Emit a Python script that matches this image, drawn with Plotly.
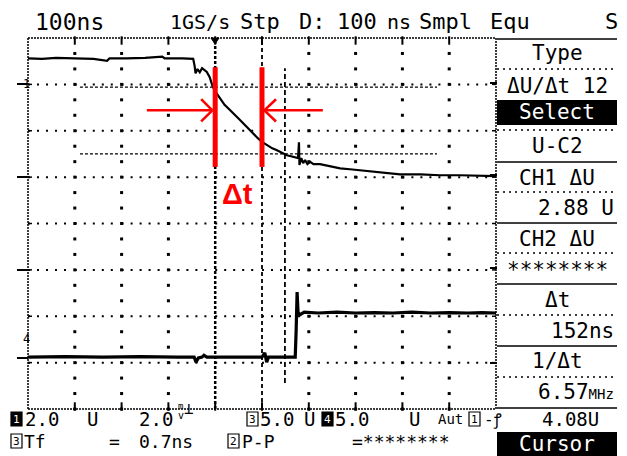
import plotly.graph_objects as go

# ---------------- data (time in ns, vertical position in screen divisions) ----------------
ch1_t = [-500, -470, -440, -400, -360, -331, -326, -290, -250, -213, -208, -170, -147,
         -144, -142, -138, -133, -128, -123, -118, -112, -105, -98, -90, -80, -68, -58,
         -47, -36, -26, -17, -9, 0, 11, 22, 32, 43, 53, 62, 71, 77, 79, 80, 84, 88, 92,
         97, 103, 110, 124, 145, 167, 188, 209, 231, 252, 274, 295, 338, 380, 423, 466, 500]
ch1_v = [7.56, 7.55, 7.57, 7.56, 7.55, 7.51, 7.56, 7.56, 7.57, 7.60, 7.56, 7.56, 7.55,
         7.40, 7.24, 7.33, 7.26, 7.35, 7.30, 7.27, 7.16, 6.94, 6.82, 6.70, 6.56, 6.44, 6.33,
         6.23, 6.12, 6.01, 5.93, 5.84, 5.76, 5.69, 5.62, 5.58, 5.52, 5.47, 5.45, 5.43, 5.41,
         5.75, 5.26, 5.41, 5.30, 5.37, 5.28, 5.33, 5.28, 5.28, 5.24, 5.19, 5.17, 5.15, 5.13,
         5.11, 5.09, 5.06, 5.06, 5.04, 5.04, 5.02, 5.02]

ch4_t = [-500, -420, -340, -260, -180, -145, -141, -136, -128, -124, -118, -60, 0, 6,
         10, 14, 40, 71, 73, 75, 77, 81, 90, 120, 160, 200, 240, 280, 320, 360, 400,
         440, 470, 500]
ch4_v = [1.12, 1.13, 1.12, 1.13, 1.12, 1.12, 1.01, 1.10, 1.12, 1.16, 1.12, 1.12, 1.12,
         1.21, 1.01, 1.12, 1.12, 1.12, 1.70, 2.52, 2.09, 2.03, 2.09, 2.07, 2.09, 2.07,
         2.08, 2.07, 2.09, 2.07, 2.08, 2.07, 2.08, 2.07]

x_range = [-500, 500]
y_range = [0, 8]
x_grid = [-400, -300, -200, -100, 0, 100, 200, 300, 400]
y_grid = [1, 2, 3, 4, 5, 6, 7]
x_step = 100
y_step = 1

cursor_t = [-100, 0]           # red time cursors
cursor_span = [5.22, 7.37]
arrow_y = 6.44
hcursor_v = [6.94, 5.50]       # horizontal dashed cursors
vcursor_t = 49                 # vertical dashed cursor

top_labels = [("100ns", 33, 23), ("1GS/s", 168, 20), ("Stp", 238, 22), ("D:", 297, 22),
              ("100", 335, 22), ("ns", 385, 20), ("Smpl", 417, 22), ("Equ", 488, 22),
              ("S", 603, 22)]

panel_center = [("Type", 53), ("ΔU/Δt 12", 86), ("U-C2", 146), ("CH1 ΔU", 178),
                ("CH2 ΔU", 239), ("********", 270), ("Δt", 300), ("1/Δt", 361)]
panel_right = [("2.88 U", 208), ("152ns", 331),
               ("6.57<span style='font-size:14px'>MHz</span>", 392)]

row1 = [("2.0", 23), ("U", 85), ("2.0", 137), ("5.0", 258), ("U", 302), ("5.0", 333),
        ("U", 407), ("4.08U", 540)]
row2 = [("Tf", 22), ("=", 107), ("0.7ns", 137), ("P-P", 240), ("=********", 350)]

# ---------------- geometry (page pixels; the page body adds an 8px margin) ----------------
PAGE_OFF = 8
W, H = 627 - PAGE_OFF, 456 - PAGE_OFF
L, R, T, B = 28, 496, 38, 409     # plot area in page pixels


def X(px):
    return (px - L) / (R - L)


def Y(py):
    return (B - py) / (B - T)


px_per_x = (R - L) / (x_range[1] - x_range[0])
py_per_y = (B - T) / (y_range[1] - y_range[0])

fig = go.Figure()

# vertical graticule: 3 dots per division, drawn as small square markers
gx, gy = [], []
for xv in x_grid:
    if xv in cursor_t:
        continue
    for k in range(y_range[0], y_range[1]):
        for j in range(3):
            gx.append(xv)
            gy.append(k + j * y_step / 3)
fig.add_trace(go.Scatter(x=gx, y=gy, mode="markers", hoverinfo="skip", cliponaxis=False,
                         marker=dict(symbol="square", size=3, color="black",
                                     line=dict(width=0))))
# top / bottom border ticks
tx, ty = [], []
for xv in x_grid:
    tx += [xv, xv]
    ty += [y_range[1] - 2.5 / py_per_y, y_range[0] + 2.5 / py_per_y]
fig.add_trace(go.Scatter(x=tx, y=ty, mode="markers", hoverinfo="skip", cliponaxis=False,
                         marker=dict(symbol="line-ns", size=6, color="black",
                                     line=dict(width=2, color="black"))))

fig.add_trace(go.Scatter(x=ch1_t, y=ch1_v, mode="lines",
                         line=dict(color="black", width=2.2), hoverinfo="skip"))
fig.add_trace(go.Scatter(x=ch4_t, y=ch4_v, mode="lines",
                         line=dict(color="black", width=3.2), hoverinfo="skip"))

shapes = []
ann = []
MONO = "DejaVu Sans Mono"

# horizontal graticule
x_cut = 44 / px_per_x
for yv in y_grid:
    for xs in range(x_range[0], x_range[1], x_step):
        shapes.append(dict(type="line", xref="x", yref="y", x0=xs, x1=xs + x_cut,
                           y0=yv, y1=yv, layer="below",
                           line=dict(color="black", width=2, dash="2px,7px")))

# left/right border ticks
for yv in y_grid:
    shapes.append(dict(type="line", xref="paper", yref="y", x0=0, x1=X(L + 4), y0=yv, y1=yv,
                       line=dict(color="black", width=1.5)))
    shapes.append(dict(type="line", xref="paper", yref="y", x0=1, x1=X(R - 4), y0=yv, y1=yv,
                       line=dict(color="black", width=1.5)))

# plot border (dense dotted)
for (x0, y0, x1, y1) in [(0, 0, 1, 0), (0, 1, 1, 1), (0, 0, 0, 1), (1, 0, 1, 1)]:
    shapes.append(dict(type="line", xref="paper", yref="paper", x0=x0, y0=y0, x1=x1, y1=y1,
                       line=dict(color="black", width=1.5, dash="2px,1px")))

# special vertical lines (trigger / cursors)
shapes.append(dict(type="line", xref="x", yref="paper", x0=-100, x1=-100, y0=0, y1=1,
                   line=dict(color="black", width=2.5, dash="3px,2px")))
shapes.append(dict(type="line", xref="x", yref="paper", x0=0, x1=0, y0=0, y1=1,
                   line=dict(color="black", width=1.8, dash="4px,3px")))
shapes.append(dict(type="line", xref="x", yref="y", x0=vcursor_t, x1=vcursor_t,
                   y0=0.56, y1=7.35, line=dict(color="black", width=1.8, dash="5px,3px")))
for v in hcursor_v:
    shapes.append(dict(type="line", xref="x", yref="y", x0=-389, x1=374, y0=v, y1=v,
                       line=dict(color="black", width=1.2, dash="3px,2px")))

# trigger marker
shapes.append(dict(type="path", xref="paper", yref="paper",
                   path=f"M {X(211)},{Y(38)} L {X(219)},{Y(38)} L {X(215)},{Y(44)} Z",
                   fillcolor="black", line=dict(color="black", width=1)))

# left / right channel markers
for py in [84, 177, 270, 358]:
    shapes.append(dict(type="line", xref="paper", yref="paper", x0=X(17), x1=X(28),
                       y0=Y(py), y1=Y(py), line=dict(color="black", width=2)))
for py in [83, 175, 268, 363]:
    shapes.append(dict(type="line", xref="paper", yref="paper", x0=X(490), x1=X(497),
                       y0=Y(py), y1=Y(py), line=dict(color="black", width=2)))
ann.append(dict(text="1", x=X(21), y=Y(75), xref="paper", yref="paper", showarrow=False,
                font=dict(family=MONO, size=12, color="black")))
ann.append(dict(text="4", x=X(21), y=Y(348), xref="paper", yref="paper", showarrow=False,
                font=dict(family=MONO, size=12, color="black")))

# red cursors and arrows
for t in cursor_t:
    shapes.append(dict(type="line", xref="x", yref="y", x0=t, x1=t,
                       y0=cursor_span[0], y1=cursor_span[1],
                       line=dict(color="#ff0000", width=5)))
red = dict(color="#ff0000", width=2.5)
shapes.append(dict(type="line", xref="x", yref="y", x0=-246, x1=-106, y0=arrow_y, y1=arrow_y, line=red))
shapes.append(dict(type="line", xref="x", yref="y", x0=-106, x1=-130, y0=arrow_y, y1=6.68, line=red))
shapes.append(dict(type="line", xref="x", yref="y", x0=-106, x1=-130, y0=arrow_y, y1=6.20, line=red))
shapes.append(dict(type="line", xref="x", yref="y", x0=130, x1=5, y0=arrow_y, y1=arrow_y, line=red))
shapes.append(dict(type="line", xref="x", yref="y", x0=5, x1=30, y0=arrow_y, y1=6.68, line=red))
shapes.append(dict(type="line", xref="x", yref="y", x0=5, x1=30, y0=arrow_y, y1=6.20, line=red))
ann.append(dict(text="<b>Δt</b>", x=-52, y=4.63, xref="x", yref="y", showarrow=False,
                font=dict(family="Liberation Sans", size=29, color="#ff0000")))

# top status line
for txt, px, sz in top_labels:
    ann.append(dict(text=txt, x=X(px), y=Y(22), xref="paper", yref="paper", showarrow=False,
                    xanchor="left", yanchor="middle",
                    font=dict(family=MONO, size=sz, color="black")))

# right panel
for py in [39, 162, 223, 284, 346, 408]:
    shapes.append(dict(type="line", xref="paper", yref="paper", x0=X(497), x1=X(617),
                       y0=Y(py), y1=Y(py), line=dict(color="black", width=1.5)))
for py in [69, 130, 192, 253, 315, 377]:
    shapes.append(dict(type="line", xref="paper", yref="paper", x0=X(497), x1=X(617),
                       y0=Y(py), y1=Y(py), line=dict(color="black", width=1.5, dash="2px,4px")))
for py0, py1 in [(100, 125), (432, 457)]:
    shapes.append(dict(type="rect", xref="paper", yref="paper", x0=X(497), x1=X(617),
                       y0=Y(py1), y1=Y(py0), fillcolor="black", line=dict(width=0)))
for txt, py in panel_center:
    ann.append(dict(text=txt, x=X(557), y=Y(py), xref="paper", yref="paper", showarrow=False,
                    xanchor="center", yanchor="middle",
                    font=dict(family=MONO, size=21, color="black")))
for txt, py in panel_right:
    ann.append(dict(text=txt, x=X(616), y=Y(py), xref="paper", yref="paper", showarrow=False,
                    xanchor="right", yanchor="middle",
                    font=dict(family=MONO, size=21, color="black")))
for txt, py in [("Select", 112), ("Cursor", 444)]:
    ann.append(dict(text=txt, x=X(557), y=Y(py), xref="paper", yref="paper", showarrow=False,
                    xanchor="center", yanchor="middle",
                    font=dict(family=MONO, size=21, color="white")))

# bottom status lines
for txt, px in row1:
    ann.append(dict(text=txt, x=X(px), y=Y(419), xref="paper", yref="paper", showarrow=False,
                    xanchor="left", yanchor="middle",
                    font=dict(family=MONO, size=19, color="black")))
for txt, px in row2:
    ann.append(dict(text=txt, x=X(px), y=Y(441), xref="paper", yref="paper", showarrow=False,
                    xanchor="left", yanchor="middle",
                    font=dict(family=MONO, size=18, color="black")))
ann.append(dict(text="Aut", x=X(436), y=Y(419), xref="paper", yref="paper", showarrow=False,
                xanchor="left", yanchor="middle", font=dict(family=MONO, size=14, color="black")))
ann.append(dict(text="-ꝭ", x=X(482), y=Y(419), xref="paper", yref="paper", showarrow=False,
                xanchor="left", yanchor="middle", font=dict(family=MONO, size=16, color="black")))
ann.append(dict(text="m", x=X(176), y=Y(413), xref="paper", yref="paper", showarrow=False,
                font=dict(family=MONO, size=9, color="black")))
ann.append(dict(text="v", x=X(176), y=Y(423), xref="paper", yref="paper", showarrow=False,
                font=dict(family=MONO, size=10, color="black")))
ann.append(dict(text="⊥", x=X(189), y=Y(420), xref="paper", yref="paper", showarrow=False,
                font=dict(family=MONO, size=16, color="black")))

# boxed channel numbers
boxes = [("1", 11, 419, True), ("3", 247, 419, False), ("4", 322, 419, True),
         ("1", 469, 419, False), ("3", 11, 441, False), ("2", 228, 441, False)]
for num, px, py, filled in boxes:
    shapes.append(dict(type="rect", xref="paper", yref="paper", x0=X(px), x1=X(px + 11),
                       y0=Y(py + 7), y1=Y(py - 7),
                       fillcolor="black" if filled else "white",
                       line=dict(color="black", width=1.2)))
    ann.append(dict(text=num, x=X(px + 5.5), y=Y(py), xref="paper", yref="paper",
                    showarrow=False, xanchor="center", yanchor="middle",
                    font=dict(family=MONO, size=11, color="white" if filled else "black")))

fig.update_layout(
    width=W, height=H,
    margin=dict(l=L - PAGE_OFF, r=W - (R - PAGE_OFF), t=T - PAGE_OFF, b=H - (B - PAGE_OFF)),
    paper_bgcolor="white", plot_bgcolor="white",
    showlegend=False,
    shapes=shapes, annotations=ann,
    xaxis=dict(range=x_range, showticklabels=False, showgrid=False, zeroline=False,
               ticks="", showline=False, fixedrange=True),
    yaxis=dict(range=y_range, showticklabels=False, showgrid=False, zeroline=False,
               ticks="", showline=False, fixedrange=True),
)

fig.write_html("out.html")
